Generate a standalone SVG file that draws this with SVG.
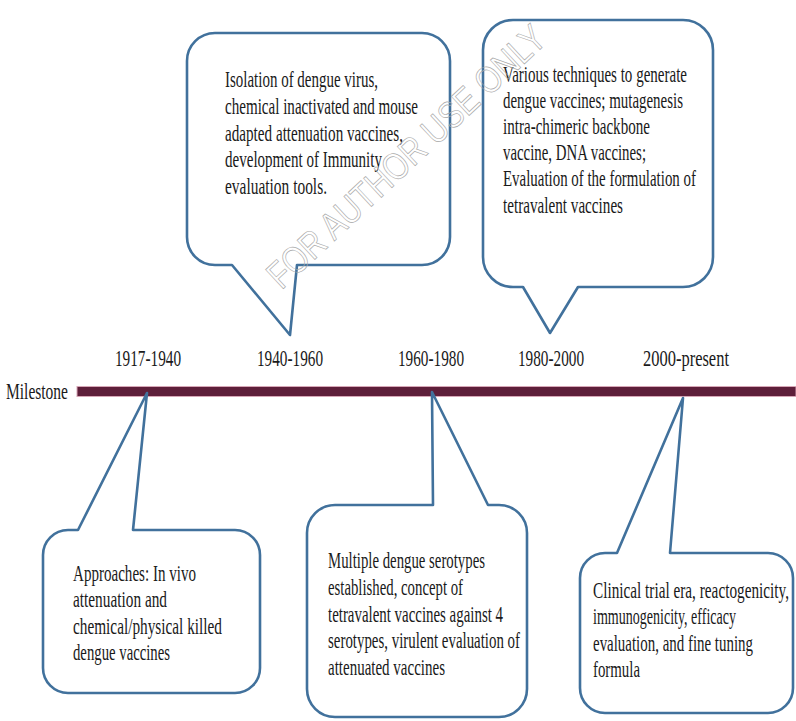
<svg xmlns="http://www.w3.org/2000/svg" width="796" height="721" viewBox="0 0 796 721">
<style>
.t{font-family:"Liberation Serif","Times New Roman",serif;font-size:23.5px;fill:#1a1a1a}
.c{fill:#ffffff;stroke:#41719C;stroke-width:2.6;stroke-linejoin:round}
.wm{font-family:"Liberation Sans",Arial,sans-serif;font-size:38px;fill:none;stroke:#a8a8a8;stroke-width:0.7}
</style>
<rect width="796" height="721" fill="#ffffff"/>
<g id="timeline">
<rect x="77" y="386.5" width="719" height="10" fill="#5E1F3A" stroke="#d7a7b7" stroke-width="1"/>
<text class="t" transform="translate(6,399) scale(0.63,1)" textLength="98.4" lengthAdjust="spacingAndGlyphs">Milestone</text>
<text class="t" transform="translate(115,366) scale(0.63,1)" textLength="104.8" lengthAdjust="spacingAndGlyphs">1917-1940</text>
<text class="t" transform="translate(257,366) scale(0.63,1)" textLength="104.8" lengthAdjust="spacingAndGlyphs">1940-1960</text>
<text class="t" transform="translate(398,366) scale(0.63,1)" textLength="104.8" lengthAdjust="spacingAndGlyphs">1960-1980</text>
<text class="t" transform="translate(518,366) scale(0.63,1)" textLength="104.8" lengthAdjust="spacingAndGlyphs">1980-2000</text>
<text class="t" transform="translate(643,366) scale(0.63,1)" textLength="136.5" lengthAdjust="spacingAndGlyphs">2000-present</text>
</g>
<g id="connectors"></g>
<g id="n1940">
<path class="c" d="M215,33 H422 A28,28 0 0 1 450,61 V237 A28,28 0 0 1 422,265 H297 L290,335 L232,265 H215 A28,28 0 0 1 187,237 V61 A28,28 0 0 1 215,33 Z"/>
<g transform="translate(225,0) scale(0.63,1)">
<text class="t" x="0" y="87" textLength="242.9" lengthAdjust="spacingAndGlyphs">Isolation of dengue virus,</text>
<text class="t" x="0" y="114" textLength="306.3" lengthAdjust="spacingAndGlyphs">chemical inactivated and mouse</text>
<text class="t" x="0" y="141" textLength="282.5" lengthAdjust="spacingAndGlyphs">adapted attenuation vaccines,</text>
<text class="t" x="0" y="167" textLength="249.2" lengthAdjust="spacingAndGlyphs">development of Immunity</text>
<text class="t" x="0" y="194" textLength="161.9" lengthAdjust="spacingAndGlyphs">evaluation tools.</text>
</g>
</g>
<g id="n1980">
<path class="c" d="M513,20 H683 A30,30 0 0 1 713,50 V257 A30,30 0 0 1 683,287 H578 L550,333 L523,287 H513 A30,30 0 0 1 483,257 V50 A30,30 0 0 1 513,20 Z"/>
<g transform="translate(503,0) scale(0.63,1)">
<text class="t" x="0" y="82" textLength="292.1" lengthAdjust="spacingAndGlyphs">Various techniques to generate</text>
<text class="t" x="0" y="108" textLength="285.7" lengthAdjust="spacingAndGlyphs">dengue vaccines; mutagenesis</text>
<text class="t" x="0" y="134" textLength="233.3" lengthAdjust="spacingAndGlyphs">intra-chimeric backbone</text>
<text class="t" x="0" y="160" textLength="227" lengthAdjust="spacingAndGlyphs">vaccine, DNA vaccines;</text>
<text class="t" x="0" y="186" textLength="306.3" lengthAdjust="spacingAndGlyphs">Evaluation of the formulation of</text>
<text class="t" x="0" y="213" textLength="190.5" lengthAdjust="spacingAndGlyphs">tetravalent vaccines</text>
</g>
</g>
<g id="n1917">
<path class="c" d="M68,530 H78 L147,393 L133,530 H235 A25,25 0 0 1 260,555 V668 A25,25 0 0 1 235,693 H68 A25,25 0 0 1 43,668 V555 A25,25 0 0 1 68,530 Z"/>
<g transform="translate(73,0) scale(0.63,1)">
<text class="t" x="0" y="581" textLength="195.2" lengthAdjust="spacingAndGlyphs">Approaches: In vivo</text>
<text class="t" x="0" y="607" textLength="149.2" lengthAdjust="spacingAndGlyphs">attenuation and</text>
<text class="t" x="0" y="634" textLength="236.5" lengthAdjust="spacingAndGlyphs">chemical/physical killed</text>
<text class="t" x="0" y="660" textLength="154" lengthAdjust="spacingAndGlyphs">dengue vaccines</text>
</g>
</g>
<g id="n1960">
<path class="c" d="M335,505 H433 L432,392 L488,505 H499 A28,28 0 0 1 527,533 V689 A28,28 0 0 1 499,717 H335 A28,28 0 0 1 307,689 V533 A28,28 0 0 1 335,505 Z"/>
<g transform="translate(328,0) scale(0.63,1)">
<text class="t" x="0" y="568" textLength="249.2" lengthAdjust="spacingAndGlyphs">Multiple dengue serotypes</text>
<text class="t" x="0" y="595" textLength="214.3" lengthAdjust="spacingAndGlyphs">established, concept of</text>
<text class="t" x="0" y="622" textLength="277.8" lengthAdjust="spacingAndGlyphs">tetravalent vaccines against 4</text>
<text class="t" x="0" y="648" textLength="304.8" lengthAdjust="spacingAndGlyphs">serotypes, virulent evaluation of</text>
<text class="t" x="0" y="675" textLength="185.7" lengthAdjust="spacingAndGlyphs">attenuated vaccines</text>
</g>
</g>
<g id="n2000">
<path class="c" d="M605,553 H617 L683,398 L670,553 H768 A25,25 0 0 1 793,578 V688 A25,25 0 0 1 768,713 H605 A25,25 0 0 1 580,688 V578 A25,25 0 0 1 605,553 Z"/>
<g transform="translate(593,0) scale(0.63,1)">
<text class="t" x="0" y="598" textLength="311.1" lengthAdjust="spacingAndGlyphs">Clinical trial era, reactogenicity,</text>
<text class="t" x="0" y="624" textLength="227" lengthAdjust="spacingAndGlyphs">immunogenicity, efficacy</text>
<text class="t" x="0" y="651" textLength="254" lengthAdjust="spacingAndGlyphs">evaluation, and fine tuning</text>
<text class="t" x="0" y="677" textLength="74.6" lengthAdjust="spacingAndGlyphs">formula</text>
</g>
</g>
<text class="wm" x="0" y="0" text-anchor="middle" textLength="365" lengthAdjust="spacingAndGlyphs" transform="translate(415,166) rotate(-43)">FOR AUTHOR USE ONLY</text>
</svg>
